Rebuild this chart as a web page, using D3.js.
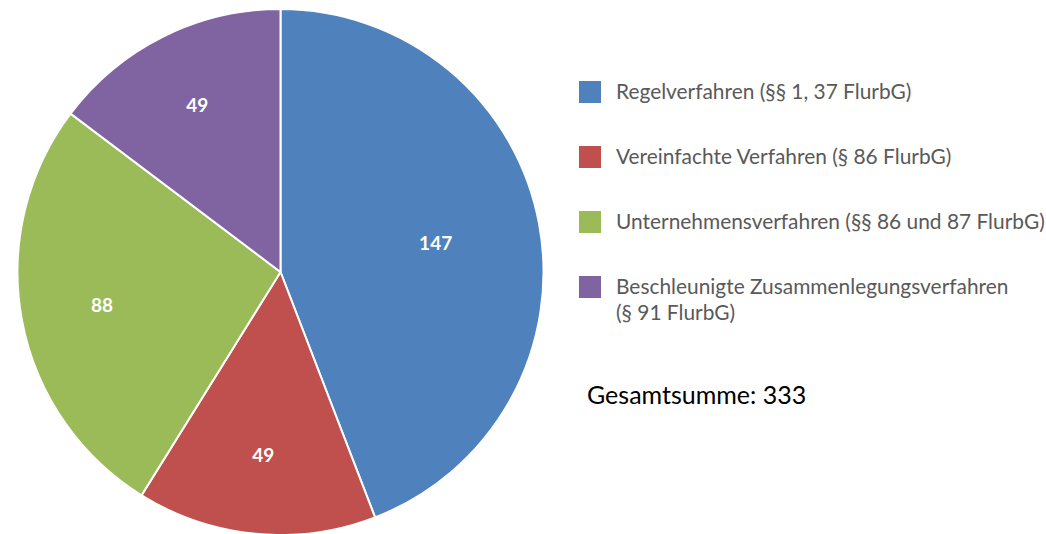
<!DOCTYPE html>
<html>
<head>
<meta charset="utf-8">
<script src="https://cdn.jsdelivr.net/npm/d3@7"></script>
<style>
  body { margin: 0; background: #fff; }
  svg { display: block; }
</style>
</head>
<body>
<div class="chart"></div>
<script>
// Data
let categories = [
  ['Regelverfahren (§§ 1, 37 FlurbG)'],
  ['Vereinfachte Verfahren (§ 86 FlurbG)'],
  ['Unternehmensverfahren (§§ 86 und 87 FlurbG)'],
  ['Beschleunigte Zusammenlegungsverfahren', '(§ 91 FlurbG)']
];
let values = [147, 49, 88, 49];
let colors = ['#4F81BD', '#C0504D', '#9BBB59', '#8064A2'];
let totalLabel = 'Gesamtsumme: 333';
// where each data label sits, as a fraction of the radius (Excel "best fit")
let labelPos = [0.6, 0.7, 0.69, 0.71];

let width = 1046, height = 534;
let cx = 280.5, cy = 272, radius = 263;
let font = 'Lato, "Open Sans", sans-serif';

let svg = d3.select('.chart')
  .append('svg')
  .attr('width', width)
  .attr('height', height);

let pie = d3.pie().sort(null).value(d => d);
let arcs = pie(values);
let arc = d3.arc().innerRadius(0).outerRadius(radius);

let g = svg.append('g').attr('transform', `translate(${cx}, ${cy})`);

g.selectAll('path')
  .data(arcs)
  .enter()
  .append('path')
  .attr('d', arc)
  .attr('fill', (d, i) => colors[i])
  .attr('stroke', '#fff')
  .attr('stroke-width', 2);

g.selectAll('text')
  .data(arcs)
  .enter()
  .append('text')
  .attr('transform', (d, i) => {
    let r = radius * labelPos[i];
    return `translate(${d3.arc().innerRadius(r).outerRadius(r).centroid(d)})`;
  })
  .attr('text-anchor', 'middle')
  .attr('dy', '0.35em')
  .style('font-family', font)
  .style('font-weight', 'bold')
  .style('font-size', '19px')
  .style('fill', '#fff')
  .text(d => d.data);

// Legend
let legend = svg.append('g').attr('transform', 'translate(579, 92)');
let items = legend.selectAll('g')
  .data(categories)
  .enter()
  .append('g')
  .attr('transform', (d, i) => `translate(0, ${i * 65})`);

items.append('rect')
  .attr('x', 0)
  .attr('y', -11)
  .attr('width', 22)
  .attr('height', 22)
  .attr('fill', (d, i) => colors[i]);

items.append('text')
  .attr('x', 37)
  .attr('y', 0)
  .style('font-family', font)
  .style('font-size', '20.9px')
  .style('fill', '#595959')
  .selectAll('tspan')
  .data(d => d)
  .enter()
  .append('tspan')
  .attr('x', 37)
  .attr('dy', (d, i) => i === 0 ? '0.35em' : '1.25em')
  .text(d => d);

svg.append('text')
  .attr('x', 587)
  .attr('y', 395)
  .attr('dy', '0.35em')
  .style('font-family', font)
  .style('font-size', '25px')
  .style('fill', '#000')
  .text(totalLabel);
</script>
</body>
</html>
